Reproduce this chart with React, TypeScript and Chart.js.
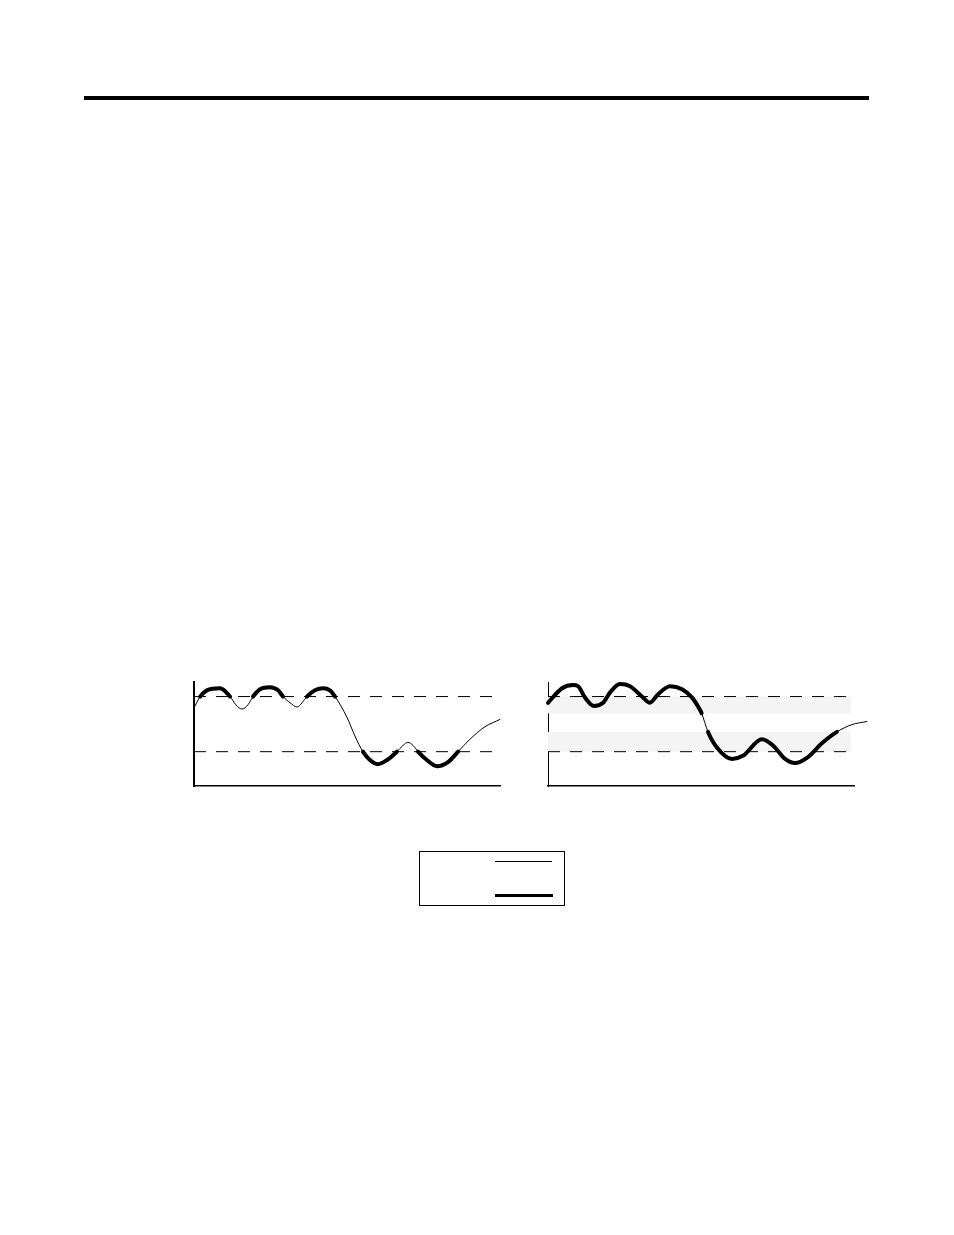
import React, { useEffect, useRef } from 'react';
import Chart from 'chart.js/auto';

// both panels share the same vertical scale (0..100)
const upperLevel = 86;
const lowerLevel = 33;
const bandHigh = [86, 70];
const bandLow = [52, 33];

// left panel: thick only beyond the dashed levels
const leftX = [0, 2, 4.2, 8.5, 11.8, 13.7, 15.7, 17.6, 19.3, 21.6, 24.8, 27.5, 29.1, 31.4, 33.7, 35.3, 36.9, 39.5, 42.2, 44.4, 46.1, 50, 52.6, 55.2, 57.5, 60.1, 63.1, 66.3, 68.3, 69.9, 71.6, 73.2, 76.1, 79.4, 83, 86.3, 90.2, 95.1, 100, 103.9];
const leftY = [75, 86, 92, 94, 86, 78, 74, 78, 86, 93, 95, 92, 86, 80, 76, 80, 86, 92, 94, 92, 86, 66, 48, 33, 25, 21, 25, 33, 39, 42, 39, 33, 25, 19, 23, 33, 45, 57, 64, 70];

// right panel: thin only inside the gap between the shaded bands
const rightX = [0, 4.6, 8.2, 9.8, 12.1, 15, 18, 20.3, 23.5, 26.8, 30.7, 33.3, 35.9, 39.9, 43.8, 47.1, 49.7, 50.2, 52.3, 55.2, 60.1, 63.7, 69.9, 73.5, 77.5, 80.7, 84.6, 89.5, 94.4, 99.3, 104.2];
const rightY = [80, 94, 97, 96, 85, 77, 80, 90, 98, 96, 86, 80, 88, 96, 93, 85, 73, 70, 52, 37, 26, 29, 45, 39, 26, 22, 27, 41, 52, 59, 62];

type PanelProps = {
  xs: number[];
  ys: number[];
  thick: (a: number, b: number) => boolean;
  bands: boolean;
  left: number;
  top: number;
  yAxisWidth: number;
};

const Panel: React.FC<PanelProps> = ({ xs, ys, thick, bands, left, top, yAxisWidth }) => {
  const canvasRef = useRef<HTMLCanvasElement | null>(null);

  useEffect(() => {
    const ctx = canvasRef.current?.getContext('2d');
    if (!ctx) return;

    const level = (y: number) => [{ x: 0, y }, { x: 99, y }];
    const datasets: any[] = [
      {
        data: xs.map((x, i) => ({ x, y: ys[i] })),
        borderColor: '#000',
        borderWidth: 1,
        pointRadius: 0,
        cubicInterpolationMode: 'monotone',
        borderCapStyle: 'round',
        borderJoinStyle: 'round',
        clip: false,
        segment: {
          borderWidth: (c: any) => (thick(c.p0.parsed.y, c.p1.parsed.y) ? 4 : 1),
        },
      },
      { data: level(upperLevel), borderColor: '#000', borderWidth: 1, borderDash: [12, 10], pointRadius: 0 },
      { data: level(lowerLevel), borderColor: '#000', borderWidth: 1, borderDash: [12, 10], pointRadius: 0 },
    ];
    if (bands) {
      datasets.push(
        { data: level(bandHigh[0]), borderWidth: 0, pointRadius: 0, backgroundColor: '#f4f4f4', fill: { value: bandHigh[1] } },
        { data: level(bandLow[0]), borderWidth: 0, pointRadius: 0, backgroundColor: '#f4f4f4', fill: { value: bandLow[1] } },
      );
    }

    const chart = new Chart(ctx, {
      type: 'line',
      data: { datasets },
      options: {
        responsive: false,
        animation: false,
        layout: { padding: { left: 2, top: 10, right: 20, bottom: 2 } },
        plugins: { legend: { display: false }, tooltip: { enabled: false } },
        scales: {
          x: {
            type: 'linear',
            min: 0,
            max: 100,
            ticks: { display: false },
            grid: { display: false },
            border: { color: '#000', width: 1.5 },
          },
          y: {
            min: 0,
            max: 100,
            ticks: { display: false },
            grid: { display: false },
            border: { color: '#000', width: yAxisWidth },
          },
        },
      },
    } as any);

    return () => chart.destroy();
  }, []);

  return (
    <canvas
      ref={canvasRef}
      width={336}
      height={124}
      style={{ position: 'absolute', left, top }}
    />
  );
};

const App: React.FC = () => {
  const leftThick = (a: number, b: number) =>
    (a >= upperLevel && b >= upperLevel) || (a <= lowerLevel && b <= lowerLevel);
  const rightThick = (a: number, b: number) =>
    (a >= bandHigh[1] && b >= bandHigh[1]) || (a <= bandLow[0] && b <= bandLow[0]);

  return (
    <div style={{ position: 'absolute', left: 0, top: 0, width: 954, height: 1235, background: '#fff' }}>
      <div style={{ position: 'absolute', left: 84, top: 96, width: 785, height: 4, background: '#000' }} />
      <Panel xs={leftX} ys={leftY} thick={leftThick} bands={false} left={184} top={672} yAxisWidth={2} />
      <Panel xs={rightX} ys={rightY} thick={rightThick} bands={true} left={538} top={672} yAxisWidth={1} />
      <div
        style={{
          position: 'absolute',
          left: 419,
          top: 851,
          width: 144,
          height: 53,
          border: '1px solid #000',
        }}
      >
        <div style={{ position: 'absolute', left: 75, top: 9, width: 57, height: 1, background: '#000' }} />
        <div style={{ position: 'absolute', left: 75, top: 42, width: 58, height: 3, background: '#000' }} />
      </div>
    </div>
  );
};

export default App;
